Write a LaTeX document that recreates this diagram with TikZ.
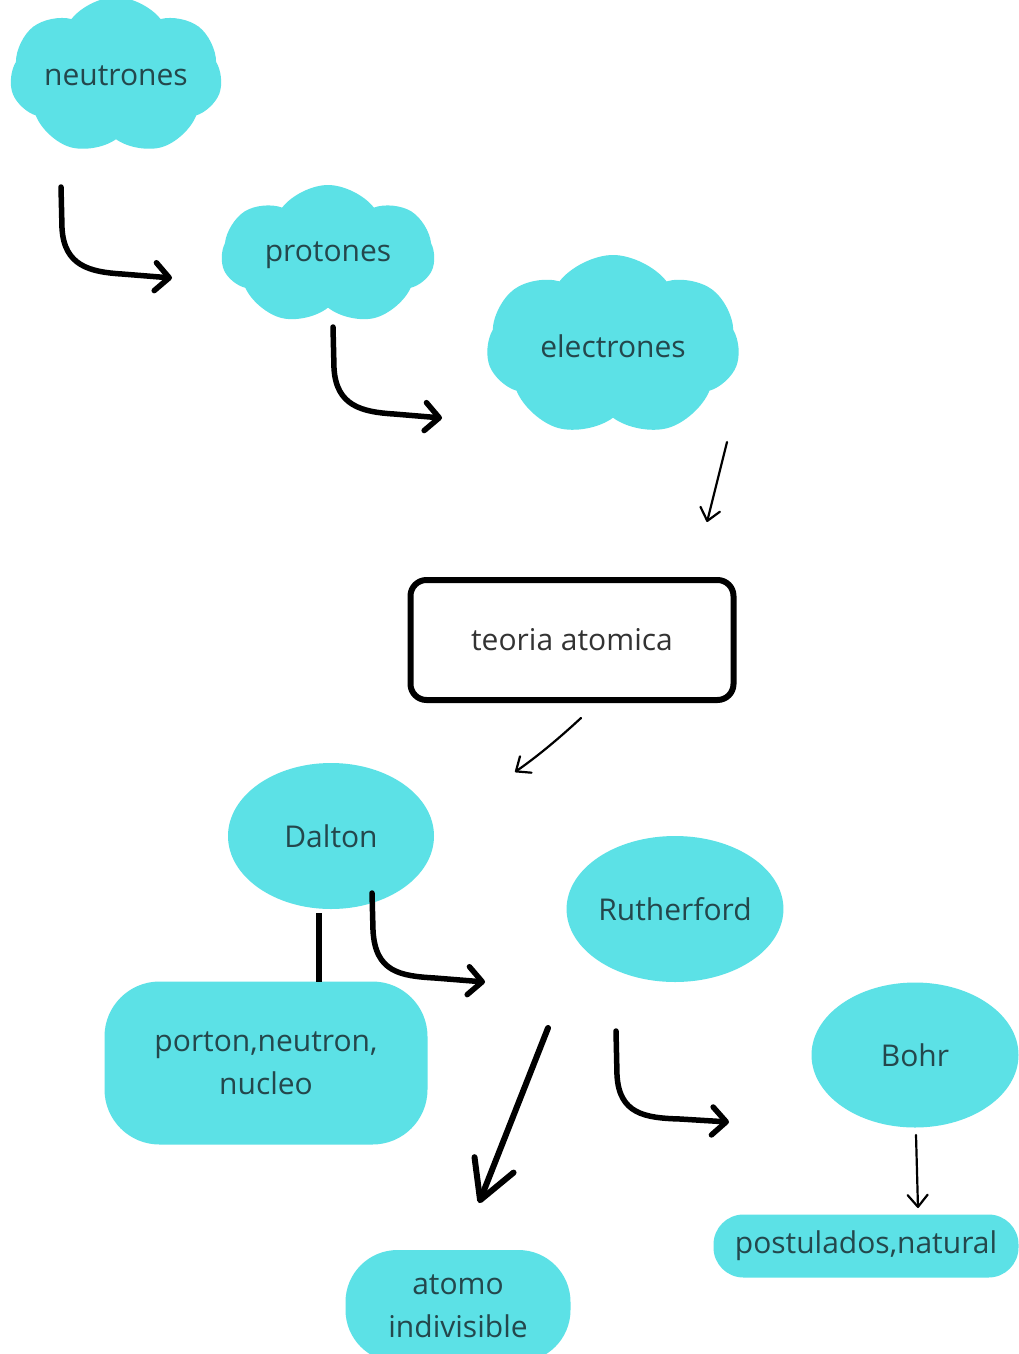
\documentclass[tikz,border=0pt]{standalone}
\usepackage{fontspec}
\setmainfont{Open Sans}
\usetikzlibrary{shapes.symbols,shapes.geometric,arrows.meta}
\definecolor{turq}{HTML}{5CE1E6}
\definecolor{txt}{HTML}{24474C}
\definecolor{boxtxt}{HTML}{333333}
\begin{document}
\begin{tikzpicture}[x=1pt,y=-1pt,
  lbl/.style={font=\fontsize{30}{43}\selectfont, text=txt, align=center},
  cloudn/.style={cloud, cloud puffs=7, cloud puff arc=105, aspect=1.6, fill=turq, draw=none, lbl, inner sep=0pt},
  ell/.style={ellipse, fill=turq, draw=none, lbl, inner sep=0pt},
  pill/.style={rectangle, fill=turq, draw=none, lbl, inner sep=0pt},
  thickarr/.style={line width=5.5pt, line cap=round, line join=round, -{Straight Barb[length=14pt,width=28pt,round]}},
  bigarr/.style={line width=6pt, line cap=round, line join=round, -{Straight Barb[length=38pt,width=42pt,round]}},
  thinarr/.style={line width=2.2pt, line cap=round, -{Straight Barb[length=12pt,width=20pt,round]}},
  plainline/.style={line width=5.5pt}]
\useasboundingbox[fill=white] (0,0) rectangle (1018,1354);

% nodes
\node[cloudn, minimum width=212pt, minimum height=143pt, shape border rotate=10] (neu) at (116,76) {neutrones};
\node[cloudn, minimum width=213pt, minimum height=140pt, shape border rotate=10] (pro) at (328,255) {protones};
\node[cloudn, minimum width=253pt, minimum height=182pt, shape border rotate=10] (ele) at (613,346) {electrones};

\node[rectangle, draw=black, line width=6pt, rounded corners=16pt, minimum width=323pt, minimum height=120pt,
      font=\fontsize{30}{43}\selectfont, text=boxtxt] (teo) at (572,640) {teoria atomica};

\node[ell, minimum width=206pt, minimum height=146pt] (dal) at (331,836) {Dalton};
\node[ell, minimum width=207pt, minimum height=146pt] (rut) at (675,909) {Rutherford};
\node[ell, minimum width=207pt, minimum height=145pt] (boh) at (915,1055) {Bohr};

\node[pill, rounded corners=55pt, minimum width=323pt, minimum height=163pt] (por) at (266,1063) {porton,neutron,\\nucleo};
\node[pill, rounded corners=30pt, minimum width=305pt, minimum height=63pt] (pos) at (866,1246) {postulados,natural};
\node[pill, rounded corners=52pt, minimum width=225pt, minimum height=112pt] (ato) at (458,1306) {atomo\\indivisible};

% connector end points
\coordinate (a1s) at (61,187);
\coordinate (a1e) at (172,278);
\coordinate (a2s) at (333,327);
\coordinate (a2e) at (442,418);
\coordinate (a3s) at (727,442);
\coordinate (a3e) at (707,522);
\coordinate (a4s) at (581,718);
\coordinate (a4e) at (515,772);
\coordinate (l1s) at (319,913);
\coordinate (l1e) at (319,982);
\coordinate (a5s) at (372,893);
\coordinate (a5e) at (485,982);
\coordinate (a6s) at (548,1028);
\coordinate (a6e) at (479,1203);
\coordinate (a7s) at (616,1031);
\coordinate (a7e) at (729,1122);
\coordinate (a8s) at (916,1135);
\coordinate (a8e) at (918,1208);

% connectors
\draw[thickarr] (a1s) -- (62,228) .. controls (64,266) and (90,272) .. (122,274) -- (a1e);
\draw[thickarr] (a2s) -- (334,368) .. controls (336,406) and (362,412) .. (394,414) -- (a2e);
\draw[thinarr] (a3s) -- (a3e);
\draw[thinarr] (a4s) .. controls (555,742) and (535,758) .. (a4e);
\draw[plainline] (l1s) -- (l1e);
\draw[thickarr] (a5s) -- (373,930) .. controls (375,972) and (400,976) .. (435,978) -- (a5e);
\draw[bigarr] (a6s) -- (a6e);
\draw[thickarr] (a7s) -- (617,1075) .. controls (619,1114) and (645,1118) .. (680,1119) -- (a7e);
\draw[thinarr] (a8s) -- (a8e);
\end{tikzpicture}
\end{document}
